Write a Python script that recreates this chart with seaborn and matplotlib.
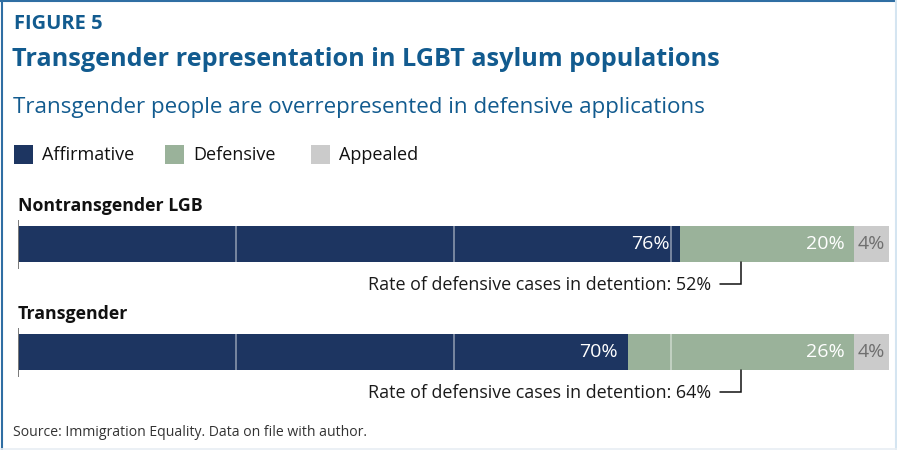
import matplotlib
matplotlib.use("Agg")
import matplotlib.pyplot as plt
import seaborn as sns
import pandas as pd
import numpy as np

# --- data ---
groups = ["Nontransgender LGB", "Transgender"]
affirmative = [76, 70]
defensive = [20, 26]
appealed = [4, 4]
detention_rate = [52, 64]
series_names = ["Affirmative", "Defensive", "Appealed"]
series_colors = ["#1d3561", "#9ab29a", "#cbcbcb"]
label_colors = ["white", "white", "#6f6f6f"]

W, H = 897, 450
sns.set_theme(style="white")
plt.rcParams["font.family"] = ["Open Sans", "DejaVu Sans"]

fig = plt.figure(figsize=(W / 100, H / 100), dpi=100)
fig.patch.set_facecolor("white")

def fx(px):
    return px / W

def fy(py):
    return 1 - py / H

# bar axes: x from 18px (0%) to 889px (100%), categories at 244px and 352px
ax_top, ax_bot = 190, 406
ax = fig.add_axes([fx(18), fy(ax_bot), fx(889) - fx(18), (ax_bot - ax_top) / H])
ax.set_facecolor("none")

df = pd.DataFrame({
    "group": groups,
    "Affirmative": affirmative,
    "Defensive": defensive,
    "Appealed": appealed,
})
df["cum_aff"] = df["Affirmative"]
df["cum_def"] = df["cum_aff"] + df["Defensive"]
df["cum_app"] = df["cum_def"] + df["Appealed"]

bar_h = 1 / 3
# stacked bars: draw the widest cumulative first, then overlay
for col, color in [("cum_app", series_colors[2]), ("cum_def", series_colors[1]), ("cum_aff", series_colors[0])]:
    sns.barplot(data=df, x=col, y="group", orient="h", color=color, width=bar_h,
                saturation=1, linewidth=0, ax=ax)

ax.set_xlim(0, 100)
ax.set_ylim(1.5, -0.5)
ax.set_xlabel("")
ax.set_ylabel("")
ax.set_xticks([])
ax.set_yticks([])
for s in ax.spines.values():
    s.set_visible(False)

txt = 12.9
for i in range(len(groups)):
    y0, y1 = i - bar_h / 2, i + bar_h / 2
    # faint gridlines across the bars
    for g in (25, 50, 75):
        ax.plot([g, g], [y0, y1], color="white", alpha=0.4, lw=1.4, zorder=5)
    # baseline tick
    ax.plot([0, 0], [y0 - 0.055, y1 + 0.065], color="#7a7a7a", lw=1.4, zorder=6,
            solid_capstyle="butt")
    ends = [df.loc[i, "cum_aff"], df.loc[i, "cum_def"], df.loc[i, "cum_app"]]
    vals = [affirmative[i], defensive[i], appealed[i]]
    # value labels
    for k in range(2):
        ax.annotate(f"{vals[k]}%", xy=(ends[k], i), xytext=(-7, 0), textcoords="offset points",
                    ha="right", va="center", color=label_colors[k], fontsize=14, zorder=7)
    ax.text((ends[1] + ends[2]) / 2, i, f"{vals[2]}%", ha="center", va="center",
            color=label_colors[2], fontsize=14, zorder=7)
    # detention note with bracket
    bx = 83.0
    by = i + 0.37
    ax.plot([bx, bx, 80.6], [y1, by, by], color="#111111", lw=1.1, clip_on=False,
            solid_joinstyle="miter")
    ax.text(79.6, by + 0.01, f"Rate of defensive cases in detention: {detention_rate[i]}%",
            ha="right", va="center", fontsize=txt, color="#1a1a1a")
    # group label
    ax.text(0, i - 0.35, groups[i], ha="left", va="center", fontsize=12.8,
            fontweight="bold", color="#111111")

# headings
title_blue = "#125b8f"
fig.text(fx(14), fy(24), "FIGURE 5", ha="left", va="center", fontsize=14.5,
         fontweight="bold", color=title_blue)
fig.text(fx(12), fy(60), "Transgender representation in LGBT asylum populations",
         ha="left", va="center", fontsize=18.2, fontweight="bold", color=title_blue)
fig.text(fx(13), fy(107), "Transgender people are overrepresented in defensive applications",
         ha="left", va="center", fontsize=16.1, color=title_blue)

# legend
leg_x = [14, 165, 311]
for x0, name, color in zip(leg_x, series_names, series_colors):
    fig.patches.append(matplotlib.patches.Rectangle((fx(x0), fy(164)), 19 / W, 19 / H,
                                                    transform=fig.transFigure,
                                                    facecolor=color, edgecolor="none"))
    fig.text(fx(x0 + 28), fy(155), name, ha="left", va="center", fontsize=13,
             color="#111111")

fig.text(fx(13), fy(432), "Source: Immigration Equality. Data on file with author.",
         ha="left", va="center", fontsize=10.1, color="#333333")

# frame around the figure
fig.add_artist(matplotlib.lines.Line2D([fx(1.5), fx(1.5)], [0, 1], color="#2f6ea3", lw=1.5,
                                       transform=fig.transFigure))
fig.add_artist(matplotlib.lines.Line2D([0, 1], [fy(1), fy(1)], color="#2f6ea3", lw=1.5,
                                       transform=fig.transFigure))
fig.add_artist(matplotlib.lines.Line2D([fx(895.5), fx(895.5)], [0, 1], color="#d5e5f1", lw=1.5,
                                       transform=fig.transFigure))
fig.add_artist(matplotlib.lines.Line2D([0, 1], [fy(448.5), fy(448.5)], color="#e8eef3", lw=1.2,
                                       transform=fig.transFigure))

fig.savefig("out.png", dpi=100)
